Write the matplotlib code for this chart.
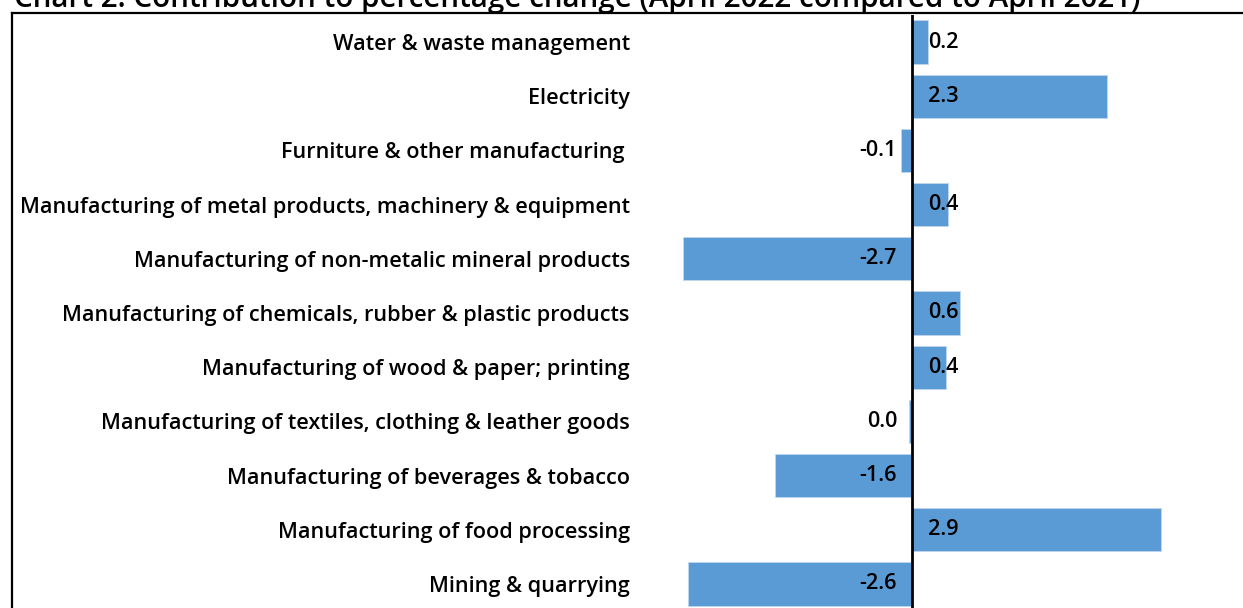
import matplotlib.pyplot as plt
from matplotlib.lines import Line2D

# Data (top to bottom as shown)
categories = [
    'Water & waste management',
    'Electricity',
    'Furniture & other manufacturing ',
    'Manufacturing of metal products, machinery & equipment',
    'Manufacturing of non-metalic mineral products',
    'Manufacturing of chemicals, rubber & plastic products',
    'Manufacturing of wood & paper; printing',
    'Manufacturing of textiles, clothing & leather goods',
    'Manufacturing of beverages & tobacco',
    'Manufacturing of food processing',
    'Mining & quarrying',
]
values = [0.19, 2.27, -0.13, 0.42, -2.66, 0.56, 0.40, -0.03, -1.59, 2.90, -2.60]

title = 'Chart 2: Contribution to percentage change (April 2022 compared to April 2021)'

plt.rcParams['font.family'] = ['Open Sans', 'DejaVu Sans']

W, H = 1243, 608
fig = plt.figure(figsize=(W / 100, H / 100), dpi=100)

# axes placed in pixel terms: zero line at x=912, ~86 px per unit
xmin, xmax = -3.2, 3.8
ppu = 86
left_px = 912 + xmin * ppu
width_px = (xmax - xmin) * ppu
top_px, bottom_px = 15, 611
ax = fig.add_axes([left_px / W, 1 - bottom_px / H, width_px / W, (bottom_px - top_px) / H])

y = list(range(len(categories)))
ax.barh(y, values, height=0.8, color='#5B9BD5', edgecolor='#BDD7EE', linewidth=0.6)
ax.set_ylim(len(categories) - 0.5, -0.5)
ax.set_xlim(xmin, xmax)
ax.axvline(0, color='black', linewidth=2)

fs = 15.6
wt = 'semibold'
ax.set_yticks(y)
ax.set_yticklabels(categories, fontsize=fs, fontweight=wt)
ax.tick_params(axis='y', length=0, pad=5)
ax.set_xticks([])
for s in ax.spines.values():
    s.set_visible(False)

# data labels at inside base
for yi, v in zip(y, values):
    txt = f'{v:.1f}'
    if txt == '-0.0':
        txt = '0.0'
    if v > 0:
        ax.annotate(txt, (0, yi), xytext=(16, 0), textcoords='offset pixels',
                    ha='left', va='center', fontsize=fs, fontweight=wt)
    else:
        ax.annotate(txt, (0, yi), xytext=(-15, 0), textcoords='offset pixels',
                    ha='right', va='center', fontsize=fs, fontweight=wt)

# chart frame (top and left edges visible)
fig.add_artist(Line2D([12 / W, 1.0], [1 - 13 / H, 1 - 13 / H], color='black', linewidth=1.6))
fig.add_artist(Line2D([12 / W, 12 / W], [1 - 13 / H, 0], color='black', linewidth=1.6))

fig.text(14 / W, 1 - 7 / H, title, fontsize=21.3, fontweight=wt, va='baseline', ha='left')

fig.savefig('out.png', dpi=100)
